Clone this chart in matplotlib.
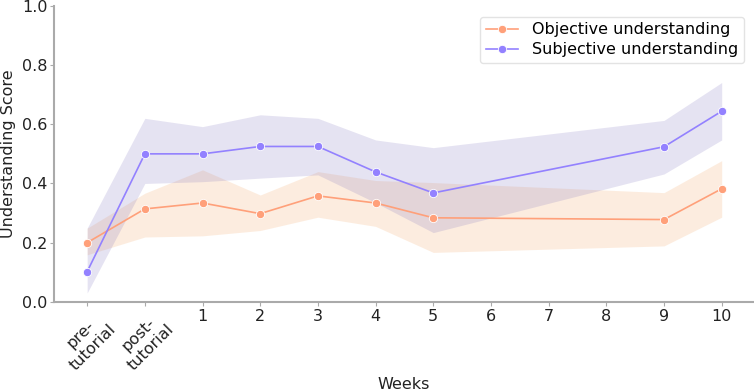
import numpy as np
import matplotlib
matplotlib.use("Agg")
import matplotlib.pyplot as plt

plt.rcParams["font.family"] = ["DejaVu Sans"]

tick_labels = ["pre-\ntutorial", "post-\ntutorial", "1", "2", "3", "4", "5", "6", "7", "8", "9", "10"]
# indices into tick_labels where data exists
obs_idx = [0, 1, 2, 3, 4, 5, 6, 10, 11]

obj_mean = [0.20, 0.314, 0.334, 0.298, 0.358, 0.334, 0.284, 0.278, 0.382]
obj_low = [0.159, 0.219, 0.223, 0.241, 0.286, 0.255, 0.167, 0.189, 0.286]
obj_high = [0.249, 0.367, 0.446, 0.361, 0.440, 0.410, 0.403, 0.369, 0.477]

subj_mean = [0.102, 0.50, 0.50, 0.525, 0.525, 0.439, 0.368, 0.524, 0.644]
subj_low = [0.030, 0.400, 0.406, 0.418, 0.429, 0.335, 0.234, 0.432, 0.547]
subj_high = [0.249, 0.620, 0.592, 0.632, 0.620, 0.547, 0.521, 0.613, 0.741]

obj_color = "#ffa07a"
subj_color = "#9381ff"
fs = 11.5

fig = plt.figure(figsize=(7.54, 3.92), dpi=100)
ax = fig.add_axes([0.072, 0.23, 0.928, 0.755])

x = np.array(obs_idx)
ax.fill_between(x, obj_low, obj_high, color="#f4a460", alpha=0.2, linewidth=0)
ax.fill_between(x, subj_low, subj_high, color="#8075c0", alpha=0.2, linewidth=0)
ax.plot(x, obj_mean, "-o", color=obj_color, markersize=6, linewidth=1.2,
        markeredgecolor="white", markeredgewidth=0.6, label="Objective understanding")
ax.plot(x, subj_mean, "-o", color=subj_color, markersize=6, linewidth=1.2,
        markeredgecolor="white", markeredgewidth=0.6, label="Subjective understanding")

ax.set_xticks(range(len(tick_labels)))
ax.set_xticklabels(tick_labels, fontsize=fs)
for lbl in ax.get_xticklabels()[:2]:
    lbl.set_rotation(45)
    lbl.set_ha("center")
    lbl.set_multialignment("center")
ax.set_xlim(-0.57, 11.56)
ax.set_ylim(0, 1.0)
ax.set_yticks([0, 0.2, 0.4, 0.6, 0.8, 1.0])
ax.set_yticklabels(["0.0", "0.2", "0.4", "0.6", "0.8", "1.0"], fontsize=fs)

for side in ["top", "right"]:
    ax.spines[side].set_visible(False)
for side in ["left", "bottom"]:
    ax.spines[side].set_color("#aaaaaa")
    ax.spines[side].set_linewidth(1.5)
ax.tick_params(colors="#aaaaaa", labelcolor="#222222", length=3, pad=2)

ax.set_ylabel("Understanding Score", fontsize=fs, color="#222222", labelpad=4)
ax.set_xlabel("Weeks", fontsize=fs, color="#222222", labelpad=3)

ax.legend(loc="upper right", fontsize=fs, frameon=True, edgecolor="#dddddd",
          bbox_to_anchor=(0.997, 0.99), handlelength=2.0, borderpad=0.35,
          labelspacing=0.3, handletextpad=0.9)

fig.savefig("out.png", dpi=100)
